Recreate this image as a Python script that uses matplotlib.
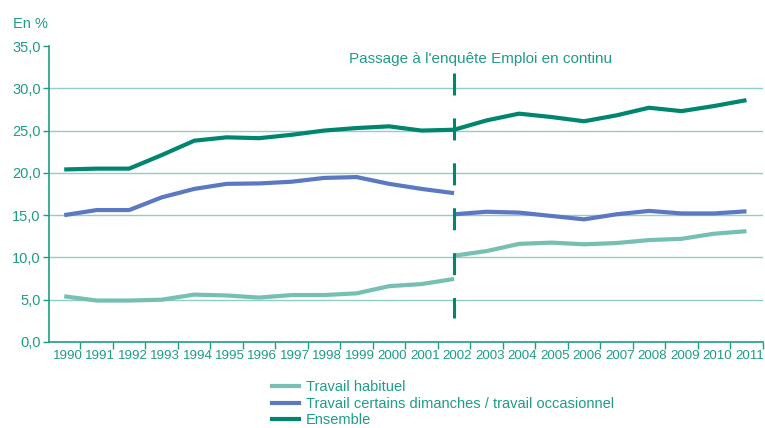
import matplotlib
matplotlib.use('Agg')
from matplotlib import pyplot
import numpy

years = [str(y) for y in range(1990, 2012)]

# ancienne enquete (1990-2002) puis enquete Emploi en continu (2002-2011)
habituel_old = [5.4, 4.9, 4.9, 5.0, 5.6, 5.5, 5.25, 5.55, 5.55, 5.75, 6.6, 6.85, 7.45]
habituel_new = [10.2, 10.75, 11.6, 11.75, 11.55, 11.7, 12.05, 12.2, 12.8, 13.1]
occasionnel_old = [15.0, 15.6, 15.6, 17.1, 18.1, 18.7, 18.75, 18.95, 19.4, 19.5, 18.7, 18.1, 17.6]
occasionnel_new = [15.1, 15.4, 15.3, 14.9, 14.5, 15.1, 15.5, 15.2, 15.2, 15.45]
ensemble_old = [20.4, 20.5, 20.5, 22.1, 23.8, 24.2, 24.1, 24.5, 25.0, 25.3, 25.5, 25.0, 25.1]
ensemble_new = [26.2, 27.0, 26.6, 26.1, 26.8, 27.7, 27.3, 27.9, 28.6]
ensemble_2002_new = 25.1
break_year = '2002'

teal_text = '#1e9c88'
grid_col = '#8fcfc6'
c_hab = '#76bfb3'
c_occ = '#5b78c0'
c_ens = '#00866e'

pyplot.rcParams['font.family'] = ['Liberation Sans', 'DejaVu Sans']

fig = pyplot.figure(figsize=(7.65, 4.28), dpi=100)
ax = fig.add_axes([0.064, 0.201, 0.933, 0.6915])

x = numpy.arange(len(years))
ib = years.index(break_year)
x_old = x[:ib + 1]
x_new = x[ib:]

ens_new = [ensemble_2002_new] + ensemble_new
ax.plot(x_old, habituel_old, color=c_hab, lw=3, solid_capstyle='butt', zorder=3)
ax.plot(x_new, habituel_new, color=c_hab, lw=3, solid_capstyle='butt', zorder=3)
ax.plot(x_old, occasionnel_old, color=c_occ, lw=3, solid_capstyle='butt', zorder=3)
ax.plot(x_new, occasionnel_new, color=c_occ, lw=3, solid_capstyle='butt', zorder=3)
ax.plot(x_old, ensemble_old, color=c_ens, lw=3, solid_capstyle='butt', zorder=3)
ax.plot(x_new, ens_new, color=c_ens, lw=3, solid_capstyle='butt', zorder=3)

# legend proxies
ax.plot([], [], color=c_hab, lw=3, label='Travail habituel')
ax.plot([], [], color=c_occ, lw=3, label='Travail certains dimanches / travail occasionnel')
ax.plot([], [], color=c_ens, lw=3, label='Ensemble')

# rupture de serie
brk, = ax.plot([ib, ib], [31.8, 2.8], color=c_ens, lw=2.2, zorder=4)
brk.set_dashes((7.2, 7.5))
ax.text(ib + 0.8, 32.6, "Passage à l'enquête Emploi en continu", color=teal_text,
        fontsize=11, ha='center', va='bottom')

ax.set_xlim(-0.47, len(years) - 0.5)
ax.set_ylim(0, 35)
ax.set_yticks(numpy.arange(0, 36, 5))
ax.set_yticklabels([('%.1f' % v).replace('.', ',') for v in numpy.arange(0, 36, 5)])
for v in range(5, 35, 5):
    ax.axhline(v, color=grid_col, lw=1, zorder=1)

ax.set_xticks(x + 0.1)
ax.set_xticklabels(years)
ax.set_xticks(x + 0.5, minor=True)
ax.tick_params(axis='x', which='major', length=0, pad=6, labelsize=9.6, labelcolor=teal_text)
ax.tick_params(axis='x', which='minor', length=5, width=1, color=teal_text, direction='out')
ax.tick_params(axis='y', length=4, width=1, color=teal_text, labelsize=10.5,
               labelcolor=teal_text, pad=2)

for s in ['top', 'right']:
    ax.spines[s].set_visible(False)
for s in ['left', 'bottom']:
    ax.spines[s].set_color(teal_text)
    ax.spines[s].set_linewidth(1.2)

fig.text(0.017, 0.935, 'En %', color=teal_text, fontsize=10.5)

leg = ax.legend(loc='upper left', bbox_to_anchor=(0.356, 0.112), bbox_transform=fig.transFigure,
                frameon=False, fontsize=10.5, handlelength=1.8, handletextpad=0.5,
                labelspacing=0.18, borderpad=0, borderaxespad=0)
for t in leg.get_texts():
    t.set_color(teal_text)

fig.savefig('out.png', dpi=100)
